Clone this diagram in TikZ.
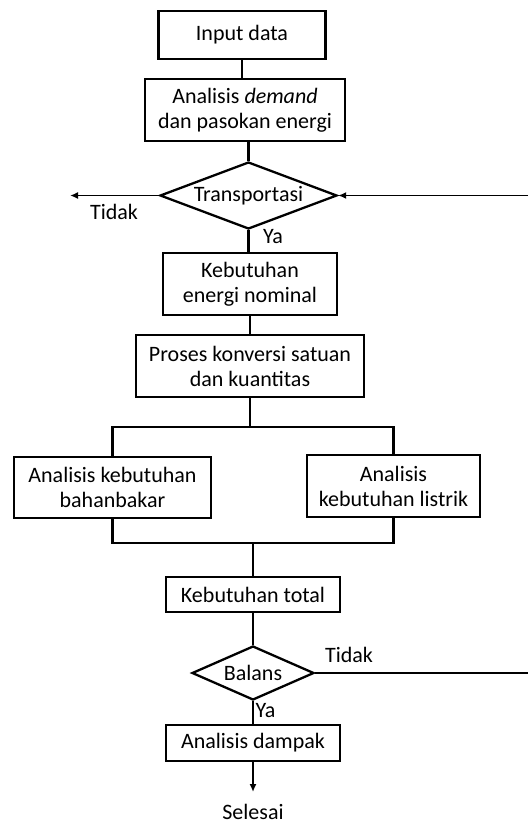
\documentclass[tikz,border=0pt]{standalone}
\usepackage{fontspec}
\setmainfont{Carlito}
\usetikzlibrary{shapes.geometric,arrows.meta}

\begin{document}
\begin{tikzpicture}[x=1pt, y=-1pt, line width=2.3pt,
	font=\fontsize{22}{25}\selectfont,
	box/.style={draw, rectangle, align=center, inner sep=0pt},
	decision/.style={draw, diamond, aspect=2.5, inner sep=0pt},
	flow/.style={line width=1.6pt, -{Latex[length=8pt,width=7pt]}}]
\useasboundingbox (0,0) rectangle (528,820);

\node[box, minimum width=167pt, minimum height=48pt] (input) at (242,35) {Input data};
\node[box, minimum width=200pt, minimum height=62pt] (demand) at (245,110) {Analisis \textit{demand}\\dan pasokan energi};
\node[decision, minimum width=177pt, minimum height=67pt] (transport) at (248.5,195.5) {Transportasi};
\node[box, minimum width=174pt, minimum height=62pt] (nominal) at (250,284) {Kebutuhan\\energi nominal};
\node[box, minimum width=228pt, minimum height=62pt] (proses) at (250,366) {Proses konversi satuan\\dan kuantitas};
\node[box, minimum width=197pt, minimum height=61pt] (bahan) at (112.5,487.5) {Analisis kebutuhan\\bahanbakar};
\node[box, minimum width=173pt, minimum height=62pt] (listrik) at (393.5,486) {Analisis\\kebutuhan listrik};
\node[box, minimum width=174pt, minimum height=35pt] (total) at (253,594.5) {Kebutuhan total};
\node[decision, minimum width=122pt, minimum height=54pt] (balans) at (253,673) {Balans};
\node[box, minimum width=174pt, minimum height=36pt] (dampak) at (253,743) {Analisis dampak};
\node[anchor=north, inner xsep=0pt, inner ysep=11pt] (selesai) at (253,792) {Selesai};

\coordinate (keluar) at (70,195.5);
\coordinate (balik) at (528,195.5);
\coordinate (ujung) at (528,673);
\coordinate (split) at (250,427);
\coordinate (merge) at (253,543);

\draw (input.south) -- (input.south |- demand.north);
\draw (transport.north) -- (transport.north |- demand.south);
\draw (transport.south) -- (transport.south |- nominal.north);
\draw (nominal) -- (proses);
\draw (proses) -- (split);
\draw (bahan.north) |- (split) -| (listrik.north);
\draw (bahan.south) |- (merge) -| (listrik.south);
\draw (merge) -- (total);
\draw (total) -- (balans);
\draw (balans) -- (dampak);
\draw[flow] (dampak) -- (selesai.north);
\draw[flow] (transport.west) -- (keluar);
\draw[flow] (balik) -- (transport.east);
\draw[line width=1.6pt] (balans.east) -- (ujung);

\node at (114,211.5) {Tidak};
\node at (273,237) {Ya};
\node at (349,655) {Tidak};
\node at (265.5,711) {Ya};
\end{tikzpicture}
\end{document}
